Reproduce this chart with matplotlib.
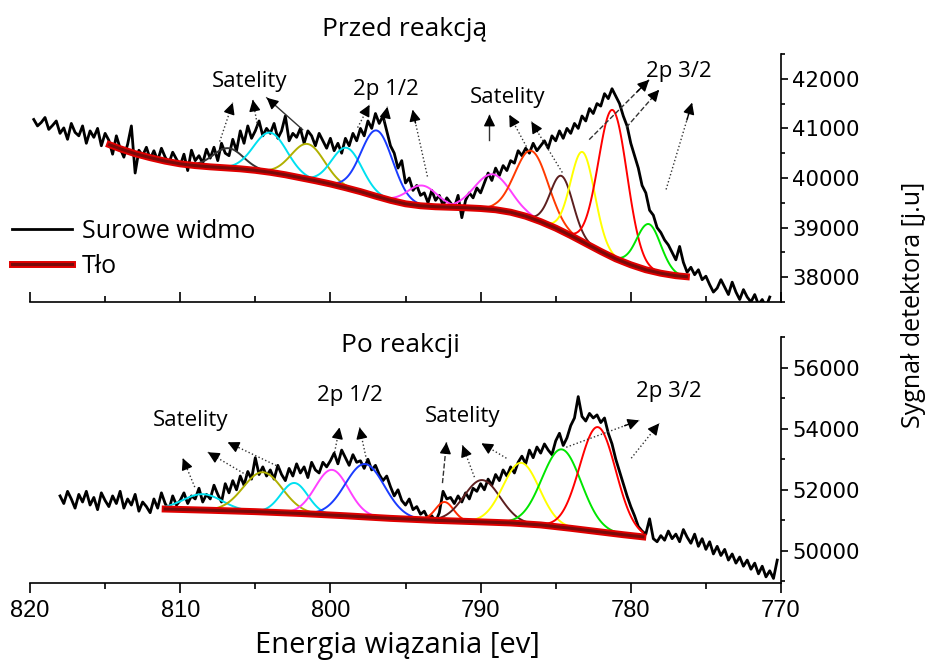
import numpy as np
import matplotlib
matplotlib.use("Agg")
import matplotlib.pyplot as plt
from matplotlib.ticker import MultipleLocator
from matplotlib import patheffects as pe

plt.rcParams["font.family"] = ["Open Sans", "DejaVu Sans"]

# ==========================================================
# DATA - "Przed reakcja" (top), raw spectrum, 0.25 eV step from 819.75 eV
# ==========================================================

top_start = 819.75
top_raw = [
    41180, 41050, 41120, 41220, 40980, 41060, 41150, 40900,
    41010, 40780, 41100, 40920, 40850, 41050, 40700, 40950,
    40820, 41000, 40650, 40900, 40760, 40480, 40850, 40600,
    40420, 40680, 41050, 40100, 40560, 40450, 40620, 40380,
    40550, 40350, 40600, 40420, 40300, 40520, 40380, 40250,
    40480, 40150, 40560, 40350, 40450, 40300, 40580, 40400,
    40620, 40350, 40700, 40500, 40450, 40780, 40550, 40950,
    40700, 41050, 40800, 40950, 41150, 40850, 41000, 40900,
    41100, 40800, 40950, 41250, 40750, 40900, 40820, 41000,
    40700, 40950, 40850, 40650, 40900, 40750, 40600, 40800,
    40550, 40700, 40500, 40800, 40650, 40900, 40750, 41000,
    40850, 41150, 41000, 41300, 41100, 41250, 40950, 40650,
    40500, 40200, 40350, 39900, 40000, 39750, 39850, 39650,
    39700, 39500, 39750, 39550, 39650, 39450, 39600, 39500,
    39400, 39650, 39200, 39550, 39700, 39600, 39800, 39700,
    39900, 40100, 39950, 40200, 40050, 40250, 40150, 40350,
    40300, 40550, 40450, 40600, 40500, 40700, 40550, 40650,
    40750, 40600, 40850, 40750, 40950, 40800, 41000, 40900,
    41100, 41000, 41250, 41150, 41400, 41300, 41500, 41450,
    41700, 41600, 41800, 41650, 41500, 41250, 41050, 40700,
    40450, 40200, 39850, 39700, 39350, 39250, 39000, 38900,
    38750, 38650, 38500, 38350, 38620, 38300, 38100, 38200,
    38050, 38150, 37950, 38020, 37850, 37700, 37780, 37950,
    37800, 37650, 37900, 37700, 37550, 37750, 37600, 37500,
    37650, 37450, 37550, 37400, 37600,
]

top_bg_e = [814.7, 814, 813, 812, 811, 810, 809, 808, 807, 806, 805, 804, 803,
            802, 801, 800, 799, 798, 797, 796, 795, 794, 793, 792, 791, 790,
            789, 788, 787, 786, 785, 784, 783, 782, 781, 780, 779, 778, 777, 776.3]
top_bg = [40670, 40590, 40490, 40410, 40340, 40285, 40250, 40225, 40205, 40185,
          40155, 40115, 40065, 40005, 39945, 39880, 39805, 39725, 39635, 39550,
          39480, 39440, 39420, 39410, 39400, 39385, 39360, 39310, 39230, 39120,
          38990, 38840, 38680, 38520, 38370, 38250, 38150, 38080, 38030, 38010]

# fitted components: centre [eV], height above background, sigma [eV]
top_centres = [806.8, 804.0, 801.5, 798.9, 796.9, 793.9, 789.2, 786.6, 784.6, 783.2, 781.2, 778.8]
top_heights = [400, 800, 710, 810, 1330, 410, 710, 1360, 1110, 1810, 2970, 935]
top_sigmas = [1.0, 1.1, 1.1, 1.0, 1.05, 1.0, 1.2, 1.1, 0.75, 0.8, 0.95, 0.8]
top_colours = ["#333333", "#00e0f0", "#b0b000", "#00e0f0", "#1a3cff", "#ff40ff",
               "#ff40ff", "#ff3a00", "#5c1f1f", "#ffff00", "#ff0000", "#00e600"]

# ==========================================================
# DATA - "Po reakcji" (bottom), raw spectrum, 0.25 eV step from 818.0 eV
# ==========================================================

bot_start = 818.0
bot_raw = [
    51800, 51550, 51950, 51700, 51400, 51850, 51600, 51950,
    51500, 51750, 51350, 51900, 51650, 51450, 51800, 51550,
    51950, 51400, 51700, 51500, 51850, 51300, 51600, 51450,
    51250, 51700, 51400, 51900, 51550, 51350, 51800, 51500,
    51650, 51900, 51550, 51800, 51700, 52050, 51600, 51850,
    51700, 52150, 51850, 51600, 52200, 51900, 52300, 52000,
    52450, 52150, 52600, 52350, 53050, 52500, 52750, 52450,
    52650, 52350, 52800, 52500, 52300, 52700, 52450, 52850,
    52550, 52750, 52400, 52900, 52650, 52550, 52900, 52750,
    52950, 53200, 52850, 53300, 53050, 52800, 53150, 52900,
    52950, 52700, 53000, 52650, 52800, 52500, 52300, 52450,
    52100, 51800, 52000, 51650, 51500, 51700, 51350, 51450,
    51200, 51300, 51050, 51150, 50950, 51250, 51950, 51700,
    51750, 51550, 51800, 51600, 51900, 51700, 52050, 51950,
    52200, 52000, 52350, 52150, 52500, 52300, 52650, 52450,
    52750, 52550, 52900, 53100, 52850, 53300, 53050, 53400,
    53200, 53500, 53300, 53150, 53600, 53850, 53450, 53700,
    54100, 54350, 55050, 54400, 54250, 54500, 54350, 54450,
    54200, 54350, 53850, 53500, 53000, 52600, 52200, 51800,
    51450, 51150, 50800, 50650, 50550, 51050, 50400, 50300,
    50500, 50350, 50650, 50400, 50550, 50300, 50700, 50450,
    50250, 50550, 50150, 50400, 50050, 50300, 49900, 50150,
    49850, 50050, 49700, 49900, 49600, 49800, 49500, 49700,
    49400, 49600, 49250, 49500, 49150, 49350, 49100, 49700,
]

bot_bg_e = [811.0, 808.0, 805.0, 802.0, 799.0, 796.0, 793.0, 790.0, 788.0,
            786.0, 784.0, 782.0, 780.5, 779.2]
bot_bg = [51370, 51330, 51285, 51225, 51150, 51065, 51000, 50950, 50915,
          50850, 50740, 50620, 50530, 50460]

bot_centres = [808.5, 804.5, 802.4, 799.9, 797.7, 792.4, 789.9, 787.3, 784.6, 782.2]
bot_heights = [520, 1300, 990, 1480, 1730, 610, 1370, 1990, 2550, 3420]
bot_sigmas = [1.3, 1.3, 0.9, 1.1, 1.3, 0.6, 1.2, 1.2, 1.3, 1.2]
bot_colours = ["#00e0f0", "#b0b000", "#00e0f0", "#ff40ff", "#1a3cff",
               "#ff2a00", "#5c1f1f", "#ffff00", "#00e600", "#ff0000"]

# annotations: (text, x, y) and arrows (tail_x, tail_y, head_x, head_y, style)
top_labels = [("Satelity", 805.4, 41940), ("2p 1/2", 796.3, 41780),
              ("Satelity", 788.2, 41620), ("2p 3/2", 776.8, 42140)]
top_arrows = [
    (807.37, 40734, 806.5, 41518, ":"),
    (804.84, 41035, 805.17, 41578, ":"),
    (801.85, 40975, 804.24, 41618, "-"),
    (798.19, 41015, 797.39, 41477, ":"),
    (796.4, 41136, 796.2, 41437, ":"),
    (793.54, 40030, 794.53, 41377, ":"),
    (789.41, 40774, 789.41, 41276, "-"),
    (786.95, 40633, 788.09, 41276, ":"),
    (784.56, 40111, 786.62, 41136, ":"),
    (782.77, 40774, 778.78, 41980, "--"),
    (780.31, 41015, 778.11, 41779, "--"),
    (777.65, 39769, 775.92, 41518, ":"),
]
bot_labels = [("Satelity", 809.3, 54270), ("2p 1/2", 798.7, 55090),
              ("Satelity", 791.2, 54400), ("2p 3/2", 777.5, 55220)]
bot_arrows = [
    (809.03, 52088, 809.83, 53033, ":"),
    (805.57, 52479, 808.16, 53229, ":"),
    (803.38, 52740, 806.84, 53555, ":"),
    (799.72, 53229, 799.39, 54044, ":"),
    (797.59, 52968, 798.06, 54044, ":"),
    (792.54, 52218, 792.27, 53555, "--"),
    (790.41, 52414, 791.21, 53457, ":"),
    (788.28, 53033, 789.95, 53522, ":"),
    (784.3, 53392, 779.44, 54272, ":"),
    (779.97, 53033, 778.11, 54174, ":"),
]


def draw_panel(ax, start, raw, bg_e, bg, centres, heights, sigmas, colours):
    energy = start - 0.25 * np.arange(len(raw))
    ax.plot(energy, raw, color="black", lw=2.0, zorder=2, label="Surowe widmo")

    bg_e_inc = np.array(bg_e)[::-1]
    bg_inc = np.array(bg)[::-1]
    for c, h, s, col in zip(centres, heights, sigmas, colours):
        lo = max(c - 3.2 * s, bg_e_inc[0])
        hi = min(c + 3.2 * s, bg_e_inc[-1])
        e = np.linspace(lo, hi, 120)
        base = np.interp(e, bg_e_inc, bg_inc)
        ax.plot(e, base + h * np.exp(-0.5 * ((e - c) / s) ** 2),
                color=col, lw=1.4, zorder=3)

    ax.plot(bg_e, bg, color="#7a0a0a", lw=2.2, zorder=4, label="Tło",
            path_effects=[pe.Stroke(linewidth=5, foreground="#e00000"), pe.Normal()])


def draw_arrows(ax, labels, arrows):
    for text, x, y in labels:
        ax.text(x, y, text, ha="center", va="center", fontsize=16)
    for tx, ty, hx, hy, ls in arrows:
        ax.plot([tx, hx], [ty, hy], color="#333333", lw=1.0, ls=ls, zorder=5)
        sx = hx + 0.2 * (tx - hx)
        sy = hy + 0.2 * (ty - hy)
        ax.annotate("", xy=(hx, hy), xytext=(sx, sy), zorder=6,
                    arrowprops=dict(arrowstyle="-|>", color="black", lw=1.0,
                                    mutation_scale=17, shrinkA=0, shrinkB=0))


def style_axis(ax, major, minor, xdir):
    for side in ["left", "top"]:
        ax.spines[side].set_visible(False)
    for side in ["right", "bottom"]:
        ax.spines[side].set_linewidth(1.2)
    ax.set_xlim(820, 770)
    ax.xaxis.set_major_locator(MultipleLocator(10))
    ax.xaxis.set_minor_locator(MultipleLocator(5))
    ax.yaxis.set_major_locator(MultipleLocator(major))
    ax.yaxis.set_minor_locator(MultipleLocator(minor))
    ax.yaxis.tick_right()
    ax.tick_params(axis="x", which="major", direction=xdir, length=7, width=1.2)
    ax.tick_params(axis="x", which="minor", direction=xdir, length=4, width=1.2)
    ax.tick_params(axis="y", which="major", direction="out", length=5, width=1.2,
                   labelsize=15.3, pad=3)
    ax.tick_params(axis="y", which="minor", direction="out", length=3, width=1.2)
    for lab in ax.get_yticklabels():
        lab.set_family("DejaVu Sans")


fig = plt.figure(figsize=(9.3, 6.61), dpi=100)
ax_top = fig.add_axes([30 / 930, 1 - 302 / 661, 751 / 930, 248 / 661])
ax_bot = fig.add_axes([30 / 930, 1 - 583 / 661, 751 / 930, 246 / 661])

# ==========================================================
# TOP PANEL
# ==========================================================

draw_panel(ax_top, top_start, top_raw, top_bg_e, top_bg,
           top_centres, top_heights, top_sigmas, top_colours)
draw_arrows(ax_top, top_labels, top_arrows)
ax_top.set_ylim(37500, 42500)
style_axis(ax_top, 1000, 500, "in")
ax_top.tick_params(axis="x", labelbottom=False)

ax_top.legend(loc="upper left", bbox_to_anchor=(12 / 930, 1 - 219 / 661),
              bbox_transform=fig.transFigure, frameon=False, fontsize=18,
              handlelength=2.4, handletextpad=0.4, labelspacing=0.4,
              borderpad=0, borderaxespad=0)

# ==========================================================
# BOTTOM PANEL
# ==========================================================

draw_panel(ax_bot, bot_start, bot_raw, bot_bg_e, bot_bg,
           bot_centres, bot_heights, bot_sigmas, bot_colours)
draw_arrows(ax_bot, bot_labels, bot_arrows)
ax_bot.set_ylim(48950, 57000)
style_axis(ax_bot, 2000, 1000, "out")
ax_bot.tick_params(axis="x", which="major", labelsize=17, pad=5)
for lab in ax_bot.get_xticklabels():
    lab.set_family("Liberation Sans")

fig.text(405 / 930, 1 - 30 / 661, "Przed reakcją", ha="center", va="center", fontsize=19)
fig.text(400 / 930, 1 - 346 / 661, "Po reakcji", ha="center", va="center", fontsize=19)
fig.text(397 / 930, 1 - 645 / 661, "Energia wiązania [ev]", ha="center", va="center", fontsize=21)
fig.text(913 / 930, 1 - 305 / 661, "Sygnał detektora [j.u]", ha="center", va="center",
         rotation=90, fontsize=18)

fig.savefig("out.png", dpi=100)
